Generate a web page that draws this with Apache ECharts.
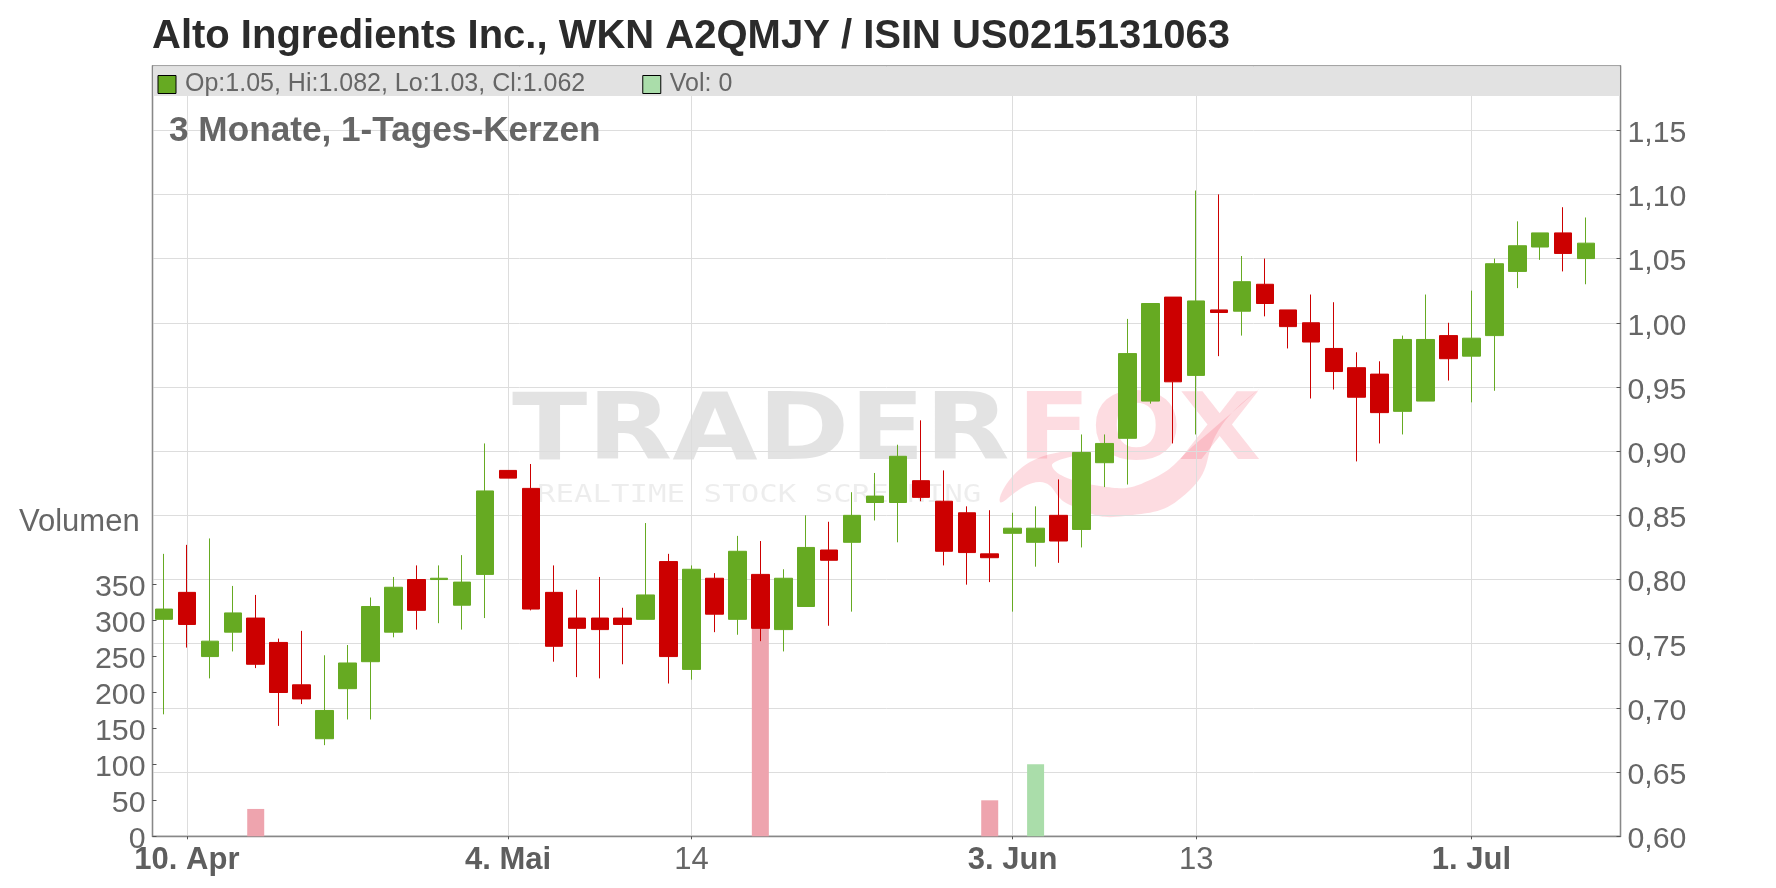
<!DOCTYPE html>
<html><head><meta charset="utf-8"><title>Alto Ingredients</title>
<style>html,body{margin:0;padding:0;background:#fff;overflow:hidden}#c{width:1776px;height:888px}</style>
<script src="https://cdn.jsdelivr.net/npm/echarts@6/dist/echarts.min.js"></script>
</head><body><div id="c"></div>
<script>
// one label per marked session; empty string = no tick
const sessionLabels = {1:'10. Apr',15:'4. Mai',23:'14',37:'3. Jun',45:'13',57:'1. Jul'};
const boldSessions = [1,15,37,57];
const sessionCount = 64; // 63 candles and one blank session at the right
// [open, close, low, high]
const candles = [
[.769,.777,.695,.820],[.790,.765,.747,.827],[.740,.752,.723,.832],[.759,.774,.744,.795],
[.770,.734,.731,.788],[.751,.712,.686,.754],[.718,.707,.703,.760],[.676,.698,.671,.741],
[.715,.735,.691,.749],[.736,.779,.691,.786],[.759,.794,.755,.802],[.800,.776,.761,.811],
[.800,.801,.766,.811],[.780,.798,.761,.819],[.804,.869,.770,.906],[.885,.879,.879,.885],
[.871,.777,.776,.890],[.790,.748,.736,.811],[.770,.762,.724,.792],[.770,.761,.723,.802],
[.770,.765,.734,.778],[.769,.788,.769,.844],[.814,.740,.719,.820],[.730,.808,.722,.811],
[.801,.773,.759,.805],[.769,.822,.757,.834],[.804,.762,.752,.830],[.761,.801,.744,.808],
[.779,.825,.779,.850],[.823,.815,.764,.845],[.829,.850,.775,.868],[.860,.865,.846,.883],
[.860,.896,.829,.905],[.877,.864,.861,.924],[.861,.822,.811,.885],[.852,.821,.796,.857],
[.820,.817,.798,.854],[.836,.840,.775,.852],[.829,.840,.810,.857],[.850,.830,.813,.878],
[.839,.899,.825,.913],[.891,.906,.872,.913],[.910,.976,.874,1.003],[.939,1.015,.937,1.015],
[1.020,.954,.906,1.020],[.959,1.017,.913,1.103],[1.010,1.008,.974,1.100],[1.009,1.032,.990,1.052],
[1.030,1.015,1.005,1.050],[1.010,.997,.980,1.010],[1.000,.985,.941,1.022],[.980,.962,.948,1.016],
[.965,.942,.892,.977],[.960,.930,.906,.970],[.931,.987,.913,.990],[.939,.987,.939,1.022],
[.990,.972,.955,1.000],[.974,.988,.938,1.025],[.990,1.046,.947,1.050],[1.040,1.060,1.027,1.079],
[1.059,1.070,1.049,1.070],[1.070,1.054,1.040,1.090],[1.050,1.062,1.030,1.082]
];
// volume by session index (all other sessions are zero)
const volumeBySession = {4:38,26:290,36:50,38:100};
const volumeTicks = [0,50,100,150,200,250,300,350];
const titleText = 'Alto Ingredients Inc., WKN A2QMJY / ISIN US0215131063';
const subtitleText = '3 Monate, 1-Tages-Kerzen';
const candleLegend = 'Op:1.05, Hi:1.082, Lo:1.03, Cl:1.062';
const volumeLegend = 'Vol: 0';

const FONT='"Liberation Sans",Arial,sans-serif';
const UP='#66aa22', DOWN='#cc0000', VUP='#aaddaa', VDOWN='#eea4ae', GRID='#dddddd', AX='#888888', TXT='#666666';
const cats=Array.from({length:sessionCount},(_,i)=>String(i));
const volumes=cats.map((_,i)=>{
  const c=candles[i]; const v=volumeBySession[i]||0;
  return {value:v,itemStyle:{color:c&&c[1]>=c[0]?VUP:VDOWN}};
});
const marked=(i)=>sessionLabels[i]!==undefined;
const chart=echarts.init(document.getElementById('c'),null,{renderer:'canvas'});
chart.setOption({
  animation:false,
  backgroundColor:'#fff',
  textStyle:{fontFamily:FONT},
  title:[
    {text:titleText,left:152,top:17,padding:0,textStyle:{fontFamily:FONT,fontWeight:'bold',fontSize:40,color:'#2b2b2b'}},
    {text:subtitleText,left:169,top:114,padding:0,z:10,textStyle:{fontFamily:FONT,fontWeight:'bold',fontSize:35.2,color:TXT}}
  ],
  legend:{
    left:157.5,top:72,padding:0,itemWidth:18,itemHeight:18,itemGap:57,z:10,
    icon:'rect',selectedMode:false,
    textStyle:{fontFamily:FONT,fontSize:25,color:TXT,padding:[0,0,0,4]},
    data:[
      {name:candleLegend,itemStyle:{color:UP,borderColor:'#000',borderWidth:1}},
      {name:volumeLegend,itemStyle:{color:VUP,borderColor:'#000',borderWidth:1}}
    ]
  },
  grid:{left:152.5,right:155.5,top:66,bottom:51.7,show:true,borderColor:AX,borderWidth:1.3,backgroundColor:'transparent'},
  xAxis:{
    type:'category',data:cats,boundaryGap:true,
    axisLine:{lineStyle:{color:AX,width:1.3}},
    axisTick:{show:true,alignWithLabel:true,length:3,lineStyle:{color:'#555'},interval:(i)=>marked(i)},
    splitLine:{show:true,alignWithLabel:true,lineStyle:{color:GRID,width:1},interval:(i)=>marked(i)},
    axisLabel:{
      interval:(i)=>marked(i),hideOverlap:false,margin:9,
      formatter:(v)=>{const idx=Number(v);const t=sessionLabels[idx]||'';return (boldSessions.includes(idx)?'{b|':'{n|')+t+'}';},
      rich:{
        b:{fontFamily:FONT,fontSize:31,fontWeight:'bold',color:'#5e5e5e'},
        n:{fontFamily:FONT,fontSize:31,color:TXT}
      }
    }
  },
  yAxis:[
    {type:'value',min:0,max:1070,position:'left',
     splitLine:{show:false},
     axisLine:{show:true,lineStyle:{color:AX,width:1.3}},
     axisTick:{show:true,inside:true,length:4,lineStyle:{color:'#555'},customValues:volumeTicks},
     axisLabel:{fontFamily:FONT,fontSize:30.3,color:TXT,margin:7,verticalAlign:'top',lineHeight:7,customValues:volumeTicks}},
    {type:'value',min:0.6,max:1.2,interval:0.05,position:'right',
     splitLine:{show:true,lineStyle:{color:GRID,width:1}},
     axisLine:{show:true,lineStyle:{color:AX,width:1.3}},
     axisTick:{show:true,inside:true,length:4,lineStyle:{color:'#555'}},
     axisLabel:{fontFamily:FONT,fontSize:30.3,color:TXT,margin:7,verticalAlign:'top',lineHeight:7,showMaxLabel:false,
       formatter:(v)=>v.toFixed(2).replace('.',',')}}
  ],
  series:[
    {name:volumeLegend,type:'bar',xAxisIndex:0,yAxisIndex:0,barWidth:17,data:volumes,z:1,itemStyle:{color:VUP}},
    {name:candleLegend,type:'candlestick',xAxisIndex:0,yAxisIndex:1,barWidth:18,z:2,data:candles,
     itemStyle:{color:UP,color0:DOWN,borderColor:UP,borderColor0:DOWN,borderWidth:1}}
  ],
  graphic:{elements:[
    {type:'text',x:512,y:389,z:0,scaleX:1.20,style:{text:'TRADER',font:'bold 92px "DejaVu Sans"',fill:'rgba(0,0,0,0.11)',textVerticalAlign:'top'}},
    {type:'text',x:1017,y:389,z:0,scaleX:1.17,style:{text:'FOX',font:'bold 92px "DejaVu Sans"',fill:'rgba(245,40,70,0.16)',textVerticalAlign:'top'}},
    {type:'text',x:537,y:483,z:0,scaleX:1.23,style:{text:'REALTIME STOCK SCREENING',font:'25px "DejaVu Sans Mono"',fill:'rgba(0,0,0,0.07)',textVerticalAlign:'top'}},
    {type:'polygon',z:0,shape:{smooth:0.5,points:[[1000,502],[1030,462],[1090,452],[1052,466],[1100,486],[1150,480],[1200,440],[1262,387],[1222,425],[1190,490],[1125,516],[1070,505],[1040,482]]},style:{fill:'rgba(245,40,70,0.16)'}},
    {type:'rect',z:3,shape:{x:153.2,y:66.7,width:1466.6,height:29.3},style:{fill:'#e2e2e2'}},
    {type:'text',x:19,y:522,z:5,style:{text:'Volumen',font:'31px "Liberation Sans"',fill:TXT,textVerticalAlign:'middle'}}
  ]}
});
</script></body></html>
